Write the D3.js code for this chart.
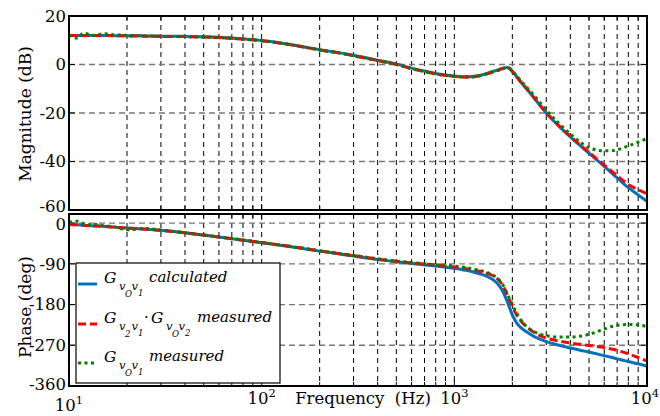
<!DOCTYPE html>
<html><head><meta charset="utf-8">
<script src="https://cdn.jsdelivr.net/npm/d3@7"></script>
<style>
body{margin:0;background:#fff}
svg{display:block}
</style>
</head><body>
<svg id="chart" width="660" height="416"></svg>
<script>
// ---------------- data ----------------
const freq = [10,11,12,13,14,15,17,20,25,30,40,50,70,100,130,160,200,250,300,400,500,600,700,800,900,
  1000,1100,1200,1300,1400,1500,1600,1700,1800,1900,2000,2100,2200,2400,2600,2800,
  3000,3500,4000,4500,5000,5500,6000,6500,7000,7500,8000,9000,10000];

const magCalculated = [12.0,12.0,12.0,12.0,12.0,12.0,11.9,11.9,11.8,11.7,11.6,11.4,10.9,9.9,8.7,7.5,6.1,4.9,3.8,
  1.8,0.2,-1.5,-2.7,-3.7,-4.3,-4.7,-5.0,-5.0,-4.7,-4.2,-3.5,-2.8,-2.1,-1.4,-1.2,
  -2.8,-4.9,-7.0,-10.5,-13.9,-17.1,-20.0,-25.5,-29.9,-33.5,-36.6,-39.4,-42.0,-44.5,-46.8,-48.9,-50.8,-53.8,-56.4];

const magProduct = [12.0,12.0,11.9,12.0,11.9,12.0,11.9,11.8,11.7,11.6,11.5,11.3,10.8,9.8,8.6,7.4,6.0,4.8,3.6,
  1.6,0.0,-1.7,-2.9,-3.9,-4.5,-4.9,-5.2,-5.2,-4.9,-4.4,-3.7,-3.0,-2.3,-1.6,-1.4,
  -2.9,-4.9,-6.9,-10.4,-13.8,-17.0,-19.8,-25.3,-29.6,-33.2,-36.2,-39.0,-41.5,-43.8,-45.9,-47.8,-49.5,-51.6,-53.3];

const magMeasured = [12.3,10.9,13.1,12.0,12.2,12.7,12.3,12.0,11.8,11.6,11.5,11.3,10.8,9.8,8.6,7.4,6.0,4.8,3.6,
  1.6,0.0,-1.7,-2.9,-3.9,-4.5,-4.9,-5.2,-5.2,-4.9,-4.4,-3.7,-3.0,-2.3,-1.6,-1.3,
  -2.6,-4.6,-6.5,-9.8,-12.9,-16.0,-18.8,-24.4,-28.6,-32.0,-34.3,-35.3,-35.6,-35.6,-35.2,-34.4,-33.6,-32.0,-30.5];

const phaseCalculated = [-3,-4,-5,-6,-6.5,-7,-9,-11,-13.5,-16,-21.5,-26.5,-34.5,-43.5,-50,-55.5,-62,-68,-73,
  -80.5,-85.5,-89.5,-92.5,-95,-97.5,-100,-103,-106,-110,-114,-119,-126,-137,-154,-178,
  -203,-220,-230,-242,-251,-257,-262,-270,-276,-281,-285,-289,-293,-296.5,-300,-303,-306,-311,-316];

const phaseProduct = [-3,-4,-5,-5.5,-6.5,-7,-9,-11,-13.5,-16,-21.5,-26.5,-34.5,-43,-49.5,-55,-61.5,-67.5,-72,
  -79.5,-84.5,-88,-90.5,-93,-95,-97,-99,-102,-105,-108,-112,-117,-126,-141,-163,
  -184,-202,-215,-231,-242,-249,-254,-261,-265,-268,-270.5,-272.5,-275,-278,-281,-285,-289,-297,-305];

const phaseMeasured = [2,4,-2,-4,-3,-6,-8,-15,-12,-15.5,-21.5,-26.5,-34,-43,-49.5,-55,-61,-67,-71.5,
  -79,-84,-87.5,-90,-92,-93.5,-95,-97,-100,-103,-106,-110,-116,-125,-139,-160,
  -180,-198,-212,-231,-240,-246,-249,-252,-252,-250,-246,-240,-234,-229,-226,-224.5,-224,-225,-229];

const magTicks = [20,0,-20,-40,-60];
const phaseTicks = [0,-90,-180,-270,-360];
const decadeTicks = [10,100,1000,10000];
const decadeExp = ["1","2","3","4"];

const seriesNames = ["calculated","measured","measured"];

// ---------------- layout ----------------
const FONT = "'DejaVu Serif','Noto Serif','Liberation Serif',serif";
const svg = d3.select("#chart");
const L = 69, R = 647;
const magTop = 16, magBot = 210, phTop = 214, phBot = 386;

const x = d3.scaleLog().domain([10,1e4]).range([L,R]);
const yMag = d3.scaleLinear().domain([-60,20]).range([magBot,magTop]);
const yPh = d3.scaleLinear().domain([-360,20]).range([phBot,phTop]);

const minorTicks = [];
for (let d = 10; d < 1e4; d *= 10) for (let k = 1; k < 10; k++) minorTicks.push(d*k);
minorTicks.push(1e4);

const colors = {calc:"#0072BD", prod:"#FF0000", meas:"#008000"};

function panel(id, y, top, bot, ticks, labelShift, series){
  const g = svg.append("g");
  g.append("clipPath").attr("id",id).append("rect")
    .attr("x",L).attr("y",top).attr("width",R-L).attr("height",bot-top);
  g.append("g").selectAll("line").data(minorTicks.filter(v=>v>10&&v<1e4)).join("line")
    .attr("x1",d=>x(d)).attr("x2",d=>x(d)).attr("y1",top).attr("y2",bot)
    .attr("stroke","#000").attr("stroke-width",1).attr("stroke-dasharray","5,4");
  g.append("g").selectAll("line").data(ticks.filter(v=>y(v)>top+1&&y(v)<bot-1)).join("line")
    .attr("x1",L).attr("x2",R).attr("y1",d=>y(d)).attr("y2",d=>y(d))
    .attr("stroke","#777").attr("stroke-width",1.3).attr("stroke-dasharray","6,4");
  const tk = g.append("g").attr("stroke","#000").attr("stroke-width",1);
  tk.selectAll(".tt").data(minorTicks).join("line")
    .attr("x1",d=>x(d)).attr("x2",d=>x(d)).attr("y1",top).attr("y2",d=>top+(decadeTicks.includes(d)?6:4));
  tk.selectAll(".tb").data(minorTicks).join("line")
    .attr("x1",d=>x(d)).attr("x2",d=>x(d)).attr("y1",bot).attr("y2",d=>bot-(decadeTicks.includes(d)?6:4));
  tk.selectAll(".tl").data(ticks).join("line")
    .attr("x1",L).attr("x2",L+6).attr("y1",d=>y(d)).attr("y2",d=>y(d));
  tk.selectAll(".tr").data(ticks).join("line")
    .attr("x1",R).attr("x2",R-6).attr("y1",d=>y(d)).attr("y2",d=>y(d));
  const cg = g.append("g").attr("clip-path",`url(#${id})`);
  series.forEach(s=>{
    const line = d3.line().x((d,i)=>x(freq[i])).y(d=>y(d)).curve(d3.curveMonotoneX);
    cg.append("path").attr("d",line(s.values)).attr("fill","none")
      .attr("stroke",s.color).attr("stroke-width",3)
      .attr("stroke-dasharray",s.dash||null);
  });
  g.append("rect").attr("x",L).attr("y",top).attr("width",R-L).attr("height",bot-top)
    .attr("fill","none").attr("stroke","#000").attr("stroke-width",2);
  g.append("g").selectAll("text").data(ticks).join("text")
    .attr("x",66).attr("y",d=>y(d)+(labelShift[d]||0)).attr("dy","0.36em").attr("text-anchor","end")
    .style("font-family",FONT).attr("font-size",16.5).text(d=>d);
  return g;
}

panel("clipMag", yMag, magTop, magBot, magTicks, {"-60":-4}, [
  {values:magCalculated, color:colors.calc},
  {values:magProduct, color:colors.prod, dash:"8,4"},
  {values:magMeasured, color:colors.meas, dash:"3,3.5"}
]);
panel("clipPh", yPh, phTop, phBot, phaseTicks, {"0":1,"-360":-2}, [
  {values:phaseCalculated, color:colors.calc},
  {values:phaseProduct, color:colors.prod, dash:"8,4"},
  {values:phaseMeasured, color:colors.meas, dash:"3,3.5"}
]);

svg.append("text").attr("transform","translate(31,114) rotate(-90)").attr("text-anchor","middle")
  .style("font-family",FONT).attr("font-size",17).text("Magnitude (dB)");
svg.append("text").attr("transform","translate(31,307) rotate(-90)").attr("text-anchor","middle")
  .style("font-family",FONT).attr("font-size",17).text("Phase (deg)");
svg.append("text").attr("x",363).attr("y",404).attr("text-anchor","middle")
  .style("font-family",FONT).attr("font-size",16.5).style("white-space","pre").text("Frequency  (Hz)");

decadeTicks.forEach((d,i)=>{
  const last = i===decadeTicks.length-1;
  const t = svg.append("text").attr("x",last?659:x(d)).attr("y", i===0?411:404)
    .attr("text-anchor",last?"end":"middle")
    .style("font-family",FONT).attr("font-size",16.5);
  t.append("tspan").text("10");
  t.append("tspan").attr("font-size",11.5).attr("dy",-7).text(decadeExp[i]);
});

const lg = svg.append("g");
lg.append("rect").attr("x",76).attr("y",263).attr("width",204).attr("height",120)
  .attr("fill","#fff").attr("stroke","#000").attr("stroke-width",1.2);
const legendRows = [
  {y:284, color:colors.calc, dash:null},
  {y:324, color:colors.prod, dash:"8,4"},
  {y:363, color:colors.meas, dash:"3,3.5"}
];
legendRows.forEach(r=>{
  lg.append("line").attr("x1",78).attr("x2",97).attr("y1",r.y).attr("y2",r.y)
    .attr("stroke",r.color).attr("stroke-width",3).attr("stroke-dasharray",r.dash);
});
function label(base, parts){
  const t = lg.append("text").attr("y",base).style("font-family",FONT).attr("font-style","italic");
  parts.forEach(p=>{
    t.append("tspan").attr("x",p[0]).attr("y",base+p[1]).attr("font-size",p[2])
      .attr("font-style",p[4]===false?"normal":"italic").text(p[3]);
  });
}
function gvv(x0, a, b){
  return [[x0,0,15.5,"G"],[x0+15,7,11.5,"v"],[x0+21,14,8.5,a],[x0+27.5,7,11.5,"v"],[x0+34,13,8.5,b]];
}
label(283, gvv(104,"O","1").concat([[149,-1,15,seriesNames[0]]]));
label(323, gvv(104,"2","1").concat([[144,-1,15,"·",false]], gvv(151,"O","2"), [[197,-1,15,seriesNames[1]]]));
label(361.5, gvv(104,"O","1").concat([[149,-0.5,15,seriesNames[2]]]));
</script>
</body></html>
